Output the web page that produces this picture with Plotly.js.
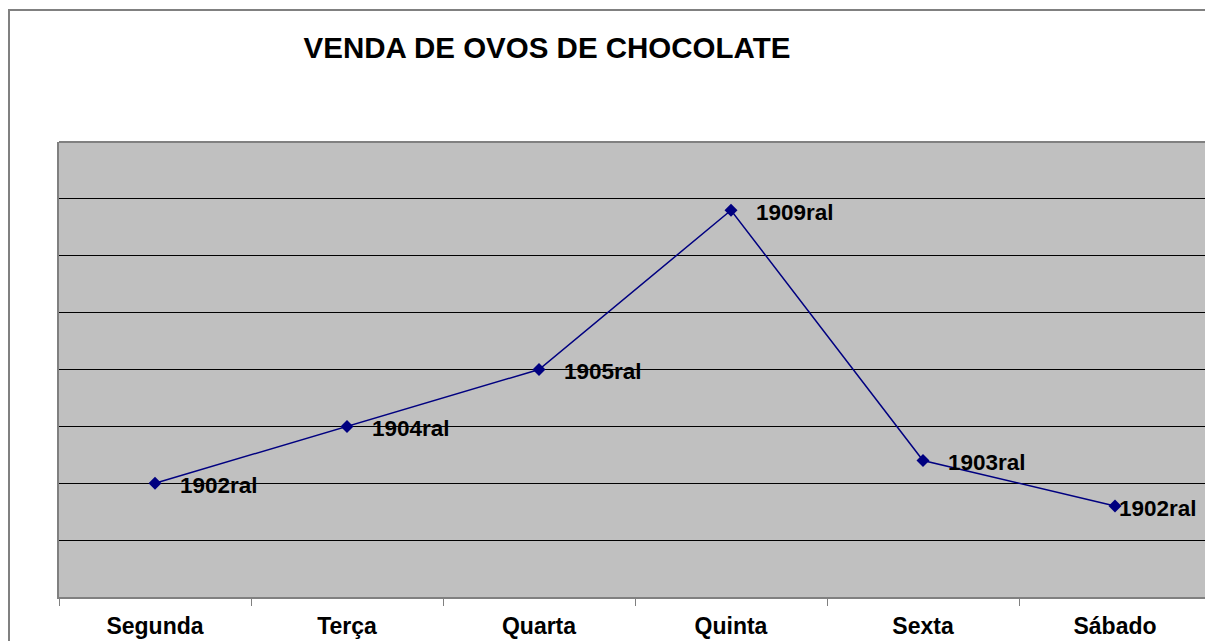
<!DOCTYPE html>
<html>
<head>
<meta charset="utf-8">
<script src="https://cdn.plot.ly/plotly-3.0.1.min.js"></script>
<style>
  html, body { margin: 0; padding: 0; background: #ffffff; overflow: hidden; }
  #wrap { position: relative; width: 1205px; height: 641px; }
  #chart { width: 1205px; height: 641px; }
  #frame { position: absolute; left: 8px; top: 9px; width: 1300px; height: 700px;
           border-left: 2px solid #808080; border-top: 2px solid #808080;
           pointer-events: none; z-index: 5; }
</style>
</head>
<body>
<div id="wrap">
  <div id="chart"></div>
  <div id="frame"></div>
</div>
<script>
// Data
const days = ["Segunda", "Terça", "Quarta", "Quinta", "Sexta", "Sábado"];
const sales = [2, 3, 4, 6.8, 2.4, 1.6];
const pointLabels = ["1902ral", "1904ral", "1905ral", "1909ral", "1903ral", "1902ral"];
const chartTitle = "VENDA DE OVOS DE CHOCOLATE";

const FONT = "Liberation Sans, Arial, Helvetica, sans-serif";
const W = 1205, H = 641;
const plotLeft = 59, plotTop = 142, plotBottom = 597;
const catWidth = 192;
const plotW = W - plotLeft;

const trace = {
  type: "scatter",
  mode: "lines+markers",
  x: days,
  y: sales,
  line: { color: "#000080", width: 1.5 },
  marker: { symbol: "diamond", size: 10, color: "#000080" },
  hoverinfo: "skip",
  showlegend: false
};

const annotations = days.map((d, i) => ({
  x: d, y: sales[i], xref: "x", yref: "y",
  text: pointLabels[i],
  showarrow: false,
  xanchor: "left", yanchor: "middle",
  xshift: i === days.length - 1 ? 2 : 23,
  yshift: -2,
  font: { family: FONT, size: 22.5, color: "#000000", weight: "bold" }
}));

const layout = {
  width: W, height: H,
  margin: { l: plotLeft, r: 0, t: plotTop, b: H - plotBottom, pad: 0 },
  paper_bgcolor: "#ffffff",
  plot_bgcolor: "#c0c0c0",
  font: { family: FONT, color: "#000000" },
  title: {
    text: chartTitle,
    x: 547 / W, xref: "container", xanchor: "center",
    y: 1 - 48 / H, yref: "container", yanchor: "middle",
    font: { family: FONT, size: 29.5, color: "#000000", weight: "bold" }
  },
  xaxis: {
    type: "category",
    range: [-0.5, -0.5 + plotW / catWidth],
    tickson: "boundaries",
    ticks: "outside", ticklen: 7, tickcolor: "#808080", tickwidth: 1,
    showgrid: false,
    showline: true, linecolor: "#808080", linewidth: 2, mirror: false,
    zeroline: false,
    tickfont: { family: FONT, size: 23, color: "#000000", weight: "bold" },
    ticklabelstandoff: 7,
    fixedrange: true
  },
  yaxis: {
    range: [0, 8],
    dtick: 1,
    showticklabels: false,
    ticks: "",
    showgrid: true, gridcolor: "#000000", gridwidth: 1,
    showline: true, linecolor: "#808080", linewidth: 2, mirror: false,
    zeroline: false,
    fixedrange: true
  },
  shapes: [
    { type: "line", xref: "paper", yref: "paper",
      x0: 0, x1: 1, y0: 1, y1: 1,
      line: { color: "#808080", width: 2 } }
  ],
  annotations: annotations,
  showlegend: false
};

Plotly.newPlot("chart", [trace], layout, { staticPlot: true, displayModeBar: false });
</script>
</body>
</html>
